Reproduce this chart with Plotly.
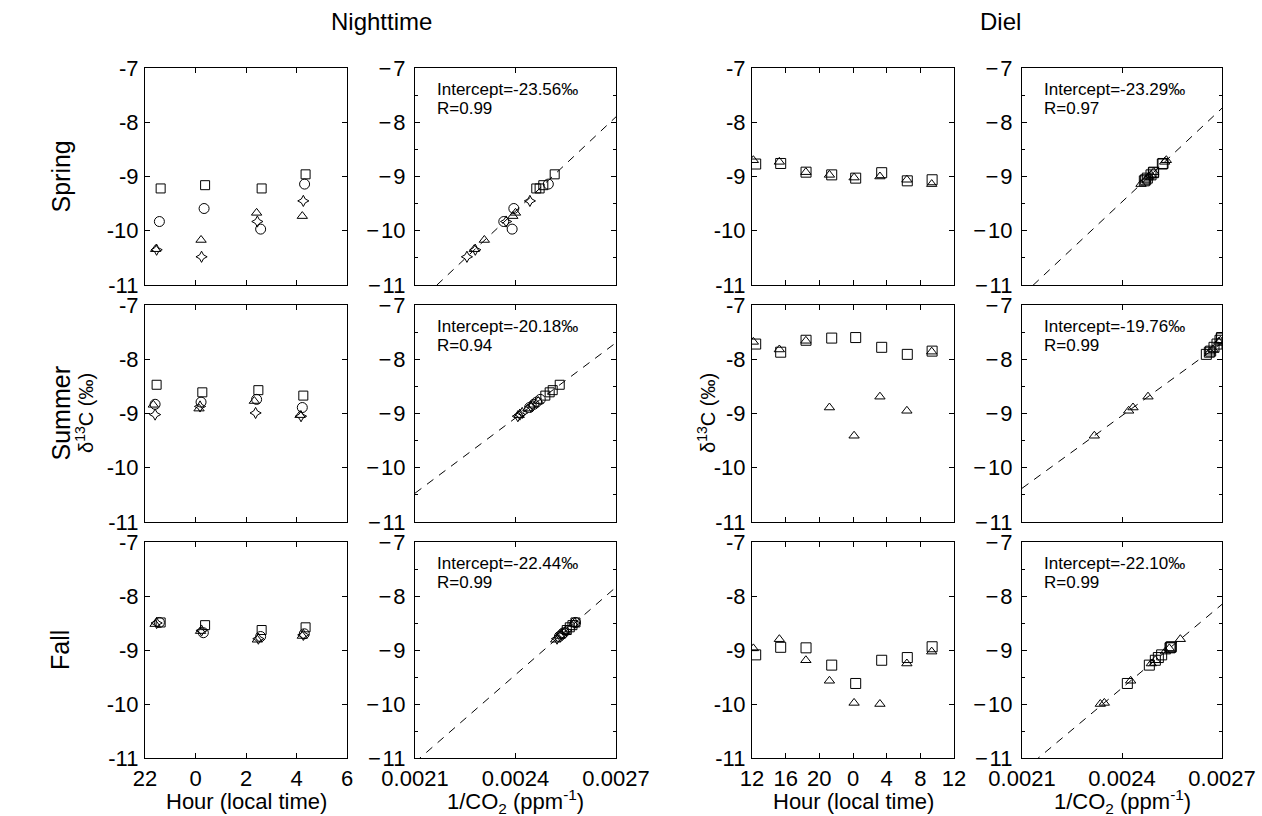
import plotly.graph_objects as go

# ---------------- data ----------------
seasons = ["Spring", "Summer", "Fall"]

# Nighttime panels: series order = square, circle, triangle, star
spring_night_hour = [[22.62, 24.38, 26.62, 28.36], [22.57, 24.34, 26.58, 28.32],
                     [22.42, 24.22, 26.42, 28.23], [22.46, 24.24, 26.45, 28.27]]
spring_night_d13c = [[-9.22, -9.16, -9.22, -8.96], [-9.83, -9.59, -9.97, -9.14],
                     [-10.34, -10.17, -9.67, -9.73], [-10.35, -10.48, -9.83, -9.45]]
spring_night_invco2 = [[0.002472, 0.002483, 0.002462, 0.002517], [0.002365, 0.002395, 0.002390, 0.002498],
                       [0.002277, 0.002307, 0.002400, 0.002392], [0.002280, 0.002255, 0.002372, 0.002443]]

summer_night_hour = [[22.46, 24.27, 26.49, 28.27], [22.40, 24.22, 26.42, 28.23],
                     [22.33, 24.14, 26.33, 28.14], [22.40, 24.18, 26.38, 28.18]]
summer_night_d13c = [[-8.47, -8.61, -8.57, -8.67], [-8.83, -8.79, -8.74, -8.89],
                     [-8.84, -8.91, -8.77, -9.03], [-9.02, -8.87, -8.99, -9.05]]
summer_night_invco2 = [[0.002532, 0.002502, 0.002511, 0.002489], [0.002455, 0.002463, 0.002474, 0.002442],
                       [0.002452, 0.002437, 0.002468, 0.002411], [0.002413, 0.002446, 0.002420, 0.002407]]

fall_night_hour = [[22.62, 24.38, 26.62, 28.36], [22.57, 24.31, 26.58, 28.31],
                   [22.40, 24.20, 26.45, 28.23], [22.46, 24.24, 26.49, 28.27]]
fall_night_d13c = [[-8.49, -8.54, -8.63, -8.58], [-8.49, -8.68, -8.75, -8.70],
                   [-8.52, -8.65, -8.81, -8.74], [-8.50, -8.64, -8.79, -8.72]]
fall_night_invco2 = [[0.002579, 0.002570, 0.002553, 0.002562], [0.002579, 0.002544, 0.002531, 0.002540],
                     [0.002573, 0.002549, 0.002520, 0.002533], [0.002577, 0.002551, 0.002524, 0.002537]]

# Diel panels: series order = square, triangle
diel_hour = [[12.44, 15.41, 18.42, 21.47, 24.32, 27.41, 30.45, 33.40],
             [12.16, 15.25, 18.40, 21.20, 24.13, 27.20, 30.40, 33.35]]
spring_diel_d13c = [[-8.77, -8.76, -8.92, -8.97, -9.03, -8.93, -9.08, -9.06],
                    [-8.70, -8.73, -8.92, -8.97, -9.02, -9.00, -9.06, -9.14]]
spring_diel_invco2 = [[0.002521, 0.002523, 0.002495, 0.002487, 0.002476, 0.002494, 0.002467, 0.002471],
                      [0.002533, 0.002528, 0.002495, 0.002487, 0.002478, 0.002481, 0.002471, 0.002457]]
summer_diel_d13c = [[-7.72, -7.87, -7.65, -7.61, -7.60, -7.78, -7.91, -7.85],
                    [-7.68, -7.82, -7.66, -8.89, -9.41, -8.69, -8.95, -7.86]]
summer_diel_invco2 = [[0.002685, 0.002662, 0.002694, 0.002698, 0.002699, 0.002676, 0.002653, 0.002666],
                      [0.002690, 0.002673, 0.002695, 0.002433, 0.002317, 0.002478, 0.002420, 0.002664]]
fall_diel_d13c = [[-9.09, -8.95, -8.96, -9.28, -9.62, -9.19, -9.14, -8.94],
                  [-8.97, -8.80, -9.19, -9.57, -9.98, -10.00, -9.25, -9.03]]
fall_diel_invco2 = [[0.002519, 0.002546, 0.002544, 0.002482, 0.002416, 0.002500, 0.002509, 0.002548],
                    [0.002542, 0.002575, 0.002500, 0.002426, 0.002347, 0.002335, 0.002488, 0.002530]]

# Keeling-plot fits (intercept, slope, R)
night_intercept = [-23.56, -20.18, -22.44]
night_slope = [5800, 4624, 5409]
night_r = [0.99, 0.94, 0.99]
diel_intercept = [-23.29, -19.76, -22.10]
diel_slope = [5759, 4467, 5165]
diel_r = [0.97, 0.99, 0.99]

hour_ticks_night = [22, 24, 26, 28, 30]
hour_labels_night = ["22", "0", "2", "4", "6"]
hour_ticks_diel = [12, 16, 20, 24, 28, 32, 36]
hour_labels_diel = ["12", "16", "20", "0", "4", "8", "12"]
inv_ticks = [0.0021, 0.0024, 0.0027]
inv_labels = ["0.0021", "0.0024", "0.0027"]
y_ticks = [-11, -10, -9, -8, -7]

# ---------------- layout geometry ----------------
W, H = 1262, 816
FONT = "Liberation Sans, Arial, Helvetica, sans-serif"
col_px = [(145, 347), (415, 616), (752, 954), (1022, 1222)]
row_px = [(68, 285), (305, 522), (542, 758)]


def xd(a, b):
    return [a / W, b / W]


def yd(a, b):
    return [1 - b / H, 1 - a / H]


night_sym = ["square-open", "circle-open", "triangle-up-open", "star-diamond-open"]
night_size = [9, 10, 9, 8]
diel_sym = ["square-open", "triangle-up-open"]
diel_size = [10, 9]

night_hour = [spring_night_hour, summer_night_hour, fall_night_hour]
night_d13c = [spring_night_d13c, summer_night_d13c, fall_night_d13c]
night_inv = [spring_night_invco2, summer_night_invco2, fall_night_invco2]
diel_d13c = [spring_diel_d13c, summer_diel_d13c, fall_diel_d13c]
diel_inv = [spring_diel_invco2, summer_diel_invco2, fall_diel_invco2]

fig = go.Figure()
layout = dict(width=W, height=H, margin=dict(l=0, r=0, t=0, b=0, autoexpand=False),
              paper_bgcolor="white", plot_bgcolor="white", showlegend=False,
              font=dict(family=FONT, color="black", size=22))

annotations = []


def add(trace, idx):
    trace.update(xaxis=f"x{idx}", yaxis=f"y{idx}")
    fig.add_trace(trace)


def note(xpx, ypx, text, size, angle=0, xanchor="center", yanchor="middle"):
    annotations.append(dict(x=xpx / W, y=1 - ypx / H, xref="paper", yref="paper", text=text,
                            textangle=angle, showarrow=False, xanchor=xanchor, yanchor=yanchor,
                            font=dict(size=size, family=FONT, color="black")))


for r in range(3):
    for c in range(4):
        idx = r * 4 + c + 1
        base_ax = dict(showline=True, linecolor="black", linewidth=1.3, mirror="allticks",
                       ticks="inside", ticklen=5, tickwidth=1.2, tickcolor="black",
                       showgrid=False, zeroline=False, automargin=False,
                       tickfont=dict(family=FONT, size=22, color="black"))
        xa = dict(base_ax, domain=xd(*col_px[c]), anchor=f"y{idx}")
        ya = dict(base_ax, domain=yd(*row_px[r]), anchor=f"x{idx}",
                  range=[-11, -7], tickvals=y_ticks, ticklabelstandoff=1)
        if c == 0:
            xa.update(range=[22, 30], tickvals=hour_ticks_night, ticktext=hour_labels_night)
        elif c == 2:
            xa.update(range=[12, 36], tickvals=hour_ticks_diel, ticktext=hour_labels_diel)
        else:
            xa.update(range=[0.0021, 0.0027], tickvals=inv_ticks, ticktext=inv_labels)
        if c in (0, 2):
            ya.update(ticktext=[str(v) for v in y_ticks])
        else:
            ya.update(ticktext=["\u2212\u200a" + str(-v) for v in y_ticks], ticklabelstandoff=4,
                      minor=dict(ticks="inside", ticklen=3, tickcolor="black",
                                 tickvals=[-10.5, -9.5, -8.5, -7.5]))
        xa["showticklabels"] = (r == 2)
        xa["ticklabelstandoff"] = 0
        layout[f"xaxis{idx}"] = xa
        layout[f"yaxis{idx}"] = ya

        if c == 0:
            for s in range(4):
                add(go.Scatter(x=night_hour[r][s], y=night_d13c[r][s], mode="markers",
                               marker=dict(symbol=night_sym[s], size=night_size[s], color="black",
                                           line=dict(width=1, color="black"))), idx)
        elif c == 1:
            xs = inv_ticks[0], inv_ticks[-1]
            add(go.Scatter(x=list(xs), y=[night_intercept[r] + night_slope[r] * x for x in xs],
                           mode="lines", line=dict(color="black", width=1, dash="8px,7px")), idx)
            for s in range(4):
                add(go.Scatter(x=night_inv[r][s], y=night_d13c[r][s], mode="markers",
                               marker=dict(symbol=night_sym[s], size=night_size[s], color="black",
                                           line=dict(width=1, color="black"))), idx)
        elif c == 2:
            for s in range(2):
                add(go.Scatter(x=diel_hour[s], y=diel_d13c[r][s], mode="markers",
                               marker=dict(symbol=diel_sym[s], size=diel_size[s], color="black",
                                           line=dict(width=1, color="black"))), idx)
        else:
            xs = inv_ticks[0], inv_ticks[-1]
            add(go.Scatter(x=list(xs), y=[diel_intercept[r] + diel_slope[r] * x for x in xs],
                           mode="lines", line=dict(color="black", width=1, dash="8px,7px")), idx)
            for s in range(2):
                add(go.Scatter(x=diel_inv[r][s], y=diel_d13c[r][s], mode="markers",
                               marker=dict(symbol=diel_sym[s], size=diel_size[s], color="black",
                                           line=dict(width=1, color="black"))), idx)

        if c in (1, 3):
            icpt = night_intercept[r] if c == 1 else diel_intercept[r]
            rr = night_r[r] if c == 1 else diel_r[r]
            x0 = col_px[c][0] + 20
            note(x0, row_px[r][0] + 10, f"Intercept={icpt:.2f}\u2030", 17, xanchor="left", yanchor="top")
            note(x0, row_px[r][0] + 29, f"R={rr:.2f}", 17, xanchor="left", yanchor="top")

# titles
note(381, 21, "Nighttime", 24)
note(1000, 21, "Diel", 24)
for r, name in enumerate(seasons):
    yc = (row_px[r][0] + row_px[r][1]) / 2
    note(60, yc, name, 25, angle=-90)
for xc in (84, 706):
    note(xc, 413, "\u03b4<sup>13</sup>C (\u2030)", 20, angle=-90)
for c in range(4):
    xc = (col_px[c][0] + col_px[c][1]) / 2
    txt = "Hour (local time)" if c in (0, 2) else "1/CO<sub>2</sub> (ppm<sup>-1</sup>)"
    note(xc, 801, txt, 22)

layout["annotations"] = annotations
fig.update_layout(**layout)
fig.write_html("out.html")
